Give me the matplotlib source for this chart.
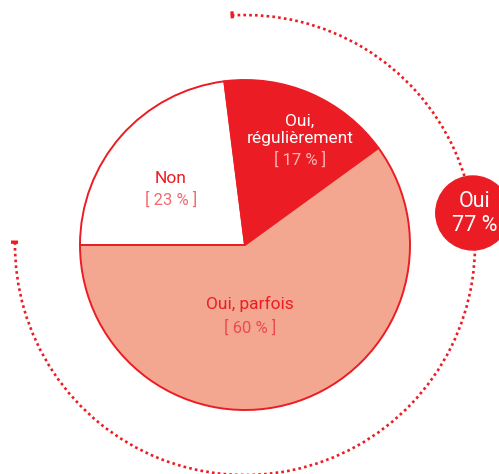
import numpy as np
import matplotlib
matplotlib.use('Agg')
import matplotlib.pyplot as plt
from matplotlib.patches import Arc, Circle

plt.rcParams['font.family'] = ['Roboto', 'DejaVu Sans']

# données
labels = ['Non', 'Oui,\nrégulièrement', 'Oui, parfois']
values = [23, 17, 60]
total_label = 'Oui'
total_value = values[1] + values[2]

red = '#ec1c24'
salmon = '#f4a790'
colors = ['white', red, salmon]

W, H = 499, 474
fig = plt.figure(figsize=(W / 100, H / 100), dpi=100)
ax = fig.add_axes([0, 0, 1, 1])

cx, cy = 245, H - 245
R = 165
start = 180

ax.pie(values, startangle=start, counterclock=False, center=(cx, cy), radius=R,
       colors=colors, wedgeprops=dict(edgecolor=red, linewidth=1.4))
ax.set_xlim(0, W)
ax.set_ylim(0, H)
ax.set_aspect('equal')
ax.axis('off')

# étiquettes (en pixels depuis le haut)
def txt(x, y, s, **kw):
    ax.text(x, H - y, s, ha='center', va='center', **kw)

txt(171, 178, labels[0], color=red, fontsize=12.5)
txt(171, 200, f'[ {values[0]} % ]', color='#f06a70', fontsize=12)
txt(300, 130, labels[1], color='white', fontsize=12.5, linespacing=1.2)
txt(300, 160, f'[ {values[1]} % ]', color='#f8b4b4', fontsize=12)
txt(250, 304, labels[2], color=red, fontsize=12.5)
txt(250, 328, f'[ {values[2]} % ]', color='#ec4a51', fontsize=12)

# arc pointillé pour le total "Oui"
Ra = 230
a_top = start - values[0] / 100 * 360 - 4
a_end = -180.7
arc = Arc((cx, cy), 2 * Ra, 2 * Ra, theta1=a_end, theta2=a_top, color=red,
          linewidth=1.9, linestyle=(0, (1, 1.2)))
ax.add_patch(arc)
for a in [a_top, a_end]:
    t = np.deg2rad(a)
    ax.plot([cx + (Ra - 3) * np.cos(t), cx + (Ra + 4) * np.cos(t)],
            [cy + (Ra - 3) * np.sin(t), cy + (Ra + 4) * np.sin(t)],
            color=red, linewidth=2.4, solid_capstyle='butt')

t = np.deg2rad(8)
bx, by = cx + Ra * np.cos(t), cy + Ra * np.sin(t)
ax.add_patch(Circle((bx, by), 37, color=red, zorder=5))
ax.text(bx + 2, by + 11, total_label, color='white', fontsize=15.5, ha='center', va='center', zorder=6)
ax.text(bx + 2, by - 13, f'{total_value} %', color='white', fontsize=15.5, ha='center', va='center', zorder=6)

fig.savefig('out.png', dpi=100)
